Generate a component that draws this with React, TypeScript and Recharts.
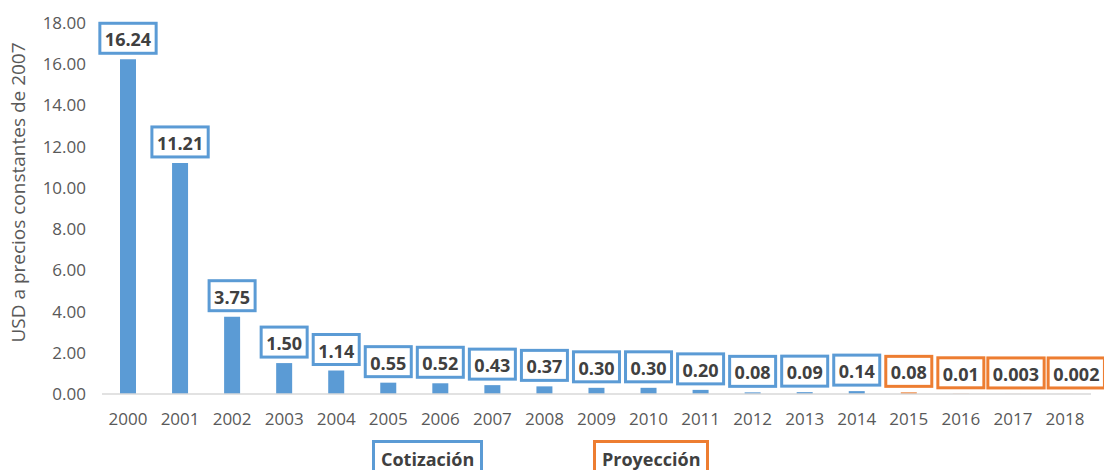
import { BarChart, Bar, XAxis, YAxis, LabelList, Cell } from "recharts";

const years = [
  "2000", "2001", "2002", "2003", "2004", "2005", "2006", "2007", "2008", "2009",
  "2010", "2011", "2012", "2013", "2014", "2015", "2016", "2017", "2018",
];
const prices = [
  16.24, 11.21, 3.75, 1.5, 1.14, 0.55, 0.52, 0.43, 0.37, 0.3,
  0.3, 0.2, 0.08, 0.09, 0.14, 0.08, 0.01, 0.003, 0.002,
];
const priceLabels = [
  "16.24", "11.21", "3.75", "1.50", "1.14", "0.55", "0.52", "0.43", "0.37", "0.30",
  "0.30", "0.20", "0.08", "0.09", "0.14", "0.08", "0.01", "0.003", "0.002",
];
const yTicks = [0, 2, 4, 6, 8, 10, 12, 14, 16, 18];
const firstProjection = 15; // 2015 onwards is projected

const BLUE = "#5B9BD5";
const ORANGE = "#ED7D31";
const FONT = "'Open Sans', sans-serif";

const W = 1104;
const H = 470;
const MARGIN = { top: 23, right: 13, left: 0, bottom: 46 };
const Y_AXIS_W = 102;
const X_AXIS_H = 30;
const BAND = (W - MARGIN.right - Y_AXIS_W) / years.length;
const PX_PER_UNIT = (H - MARGIN.top - MARGIN.bottom - X_AXIS_H) / 18;
const BOX_H = 30;

const data = years.map((year, i) => ({ year, price: prices[i] }));

let ctx: CanvasRenderingContext2D | null = null;
function textWidth(s: string) {
  if (!ctx) ctx = document.createElement("canvas").getContext("2d");
  if (!ctx) return s.length * 10;
  ctx.font = `700 18px ${FONT}`;
  return ctx.measureText(s).width;
}

// box widths, plus a small rightward nudge where neighbouring boxes would collide
let layout: { w: number; shift: number }[] | null = null;
function getLayout() {
  if (layout) return layout;
  const out: { w: number; shift: number }[] = [];
  priceLabels.forEach((t, i) => {
    const w = textWidth(t) + 10;
    let shift = 0;
    if (i > 0) {
      const prev = out[i - 1];
      const dy = Math.abs(prices[i] - prices[i - 1]) * PX_PER_UNIT;
      if (dy < BOX_H) {
        shift = Math.max(0, prev.shift + (prev.w + w) / 2 + 4 - BAND);
      }
    }
    out.push({ w, shift });
  });
  layout = out;
  return out;
}

function BoxLabel(props: any) {
  const { x, y, width, index } = props;
  const text = priceLabels[index];
  const color = index >= firstProjection ? ORANGE : BLUE;
  const { w, shift } = getLayout()[index];
  const cx = x + width / 2 + shift;
  const bottom = y - 6;
  return (
    <g>
      <rect
        x={cx - w / 2}
        y={bottom - BOX_H}
        width={w}
        height={BOX_H}
        fill="#fff"
        stroke={color}
        strokeWidth={3}
      />
      <text
        x={cx}
        y={bottom - BOX_H / 2 + 1}
        textAnchor="middle"
        dominantBaseline="central"
        fill="#404040"
        fontWeight={700}
        fontSize={18}
        fontFamily={FONT}
      >
        {text}
      </text>
    </g>
  );
}

const legendBox = (left: number, color: string): React.CSSProperties => ({
  position: "absolute",
  left,
  top: 440,
  height: 40,
  padding: "0 6px",
  border: `3px solid ${color}`,
  background: "#fff",
  color: "#404040",
  fontWeight: 700,
  fontSize: 18,
  lineHeight: "32px",
  boxSizing: "border-box",
});

export default function App() {
  return (
    <div
      style={{
        position: "absolute",
        left: 0,
        top: 0,
        width: W,
        height: H,
        overflow: "hidden",
        background: "#fff",
        fontFamily: FONT,
      }}
    >
      <BarChart width={W} height={H} data={data} margin={MARGIN}>
        <XAxis
          dataKey="year"
          axisLine={{ stroke: "#D9D9D9", strokeWidth: 1.5 }}
          tickLine={false}
          tickMargin={13}
          height={X_AXIS_H}
          tick={{ fill: "#595959", fontSize: 17 }}
          interval={0}
        />
        <YAxis
          width={Y_AXIS_W}
          domain={[0, 18]}
          ticks={yTicks}
          axisLine={false}
          tickLine={false}
          tickMargin={10}
          tickFormatter={(v: number) => v.toFixed(2)}
          tick={{ fill: "#595959", fontSize: 17 }}
          label={{
            value: "USD a precios constantes de 2007",
            angle: -90,
            position: "center",
            dx: -33,
            dy: -16,
            fill: "#595959",
            fontSize: 19,
          }}
        />
        <Bar dataKey="price" barSize={16} isAnimationActive={false}>
          {data.map((d, i) => (
            <Cell key={d.year} fill={i >= firstProjection ? ORANGE : BLUE} />
          ))}
          <LabelList dataKey="price" content={BoxLabel} />
        </Bar>
      </BarChart>
      <div style={legendBox(372, BLUE)}>Cotización</div>
      <div style={legendBox(593, ORANGE)}>Proyección</div>
    </div>
  );
}
